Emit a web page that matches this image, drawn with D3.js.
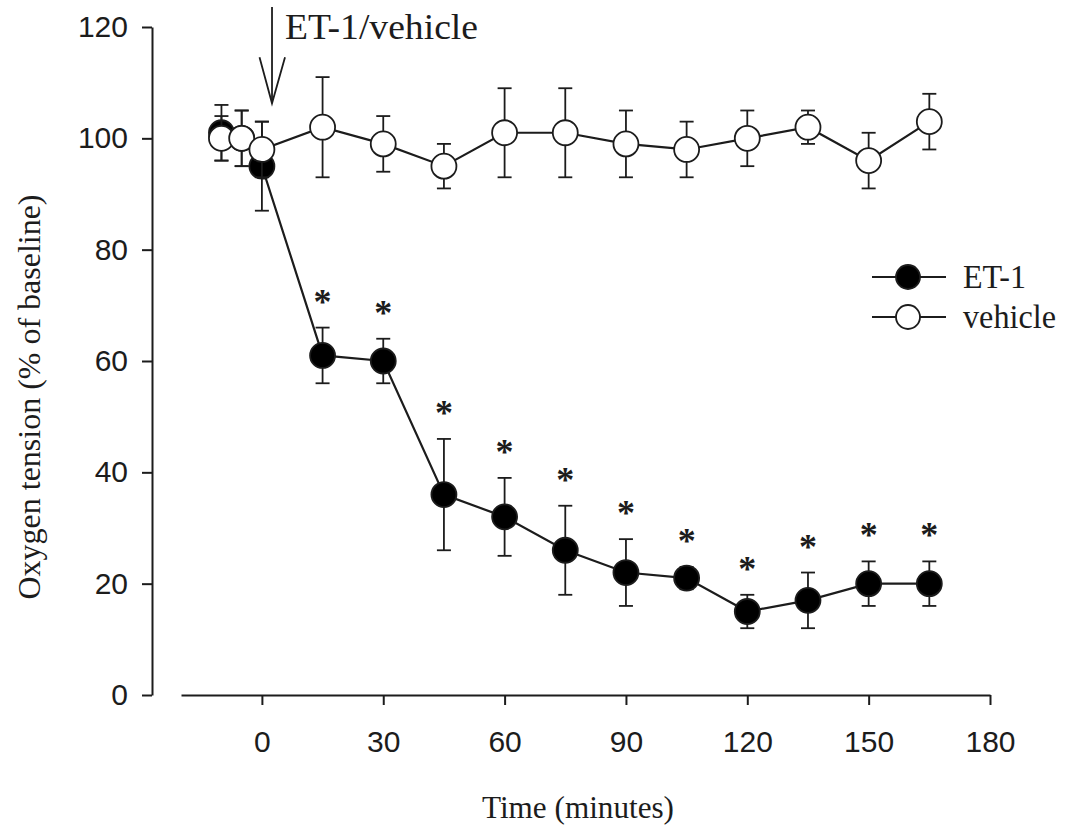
<!DOCTYPE html>
<html>
<head>
<meta charset="utf-8">
<script src="https://cdn.jsdelivr.net/npm/d3@7"></script>
<style>
  html, body { margin: 0; padding: 0; background: #fff; }
  svg { display: block; }
</style>
</head>
<body>
<svg id="chart" width="1067" height="830"></svg>
<script>
// Sampling times (minutes relative to ET-1 / vehicle injection)
const times = [-10, -5, 0, 15, 30, 45, 60, 75, 90, 105, 120, 135, 150, 165];

// ET-1 group: mean oxygen tension (% of baseline) and SEM
const et1Mean = [101, 100, 95, 61, 60, 36, 32, 26, 22, 21, 15, 17, 20, 20];
const et1Err  = [5, 5, 8, 5, 4, 10, 7, 8, 6, 2, 3, 5, 4, 4];

// Vehicle group: mean oxygen tension (% of baseline) and SEM
const vehMean = [100, 100, 98, 102, 99, 95, 101, 101, 99, 98, 100, 102, 96, 103];
const vehErr  = [4, 5, 5, 9, 5, 4, 8, 8, 6, 5, 5, 3, 5, 5];

// Time points where ET-1 differs significantly from vehicle
const et1Significant = [15, 30, 45, 60, 75, 90, 105, 120, 135, 150, 165];

const xTicks = [0, 30, 60, 90, 120, 150, 180];
const yTicks = [0, 20, 40, 60, 80, 100, 120];

// Injection marker
const injectionTime = 2.5;
const injectionLabel = "ET-1/vehicle";

const ink = "#1c1c1c";
const svg = d3.select("#chart");

const x = d3.scaleLinear().domain([-20, 180]).range([181, 990]);
const y = d3.scaleLinear().domain([0, 120]).range([695, 27]);

// Axes
const xAxis = svg.append("g")
  .attr("transform", `translate(0,${y(0)})`)
  .call(d3.axisBottom(x).tickValues(xTicks).tickSize(10).tickSizeOuter(0).tickPadding(26));
const yAxis = svg.append("g")
  .attr("transform", `translate(152,0)`)
  .call(d3.axisLeft(y).tickValues(yTicks).tickSize(10).tickSizeOuter(0).tickPadding(14));

[xAxis, yAxis].forEach(g => {
  g.select(".domain").attr("stroke", ink).attr("stroke-width", 2);
  g.selectAll(".tick line").attr("stroke", ink).attr("stroke-width", 2);
  g.selectAll(".tick text")
    .attr("fill", ink)
    .style("font-family", "'Liberation Sans', Arial, sans-serif")
    .style("font-size", "30px");
});

// Axis titles
svg.append("text")
  .attr("x", 578).attr("y", 818)
  .attr("text-anchor", "middle")
  .attr("textLength", 192).attr("lengthAdjust", "spacingAndGlyphs")
  .style("font-family", "'Liberation Serif', 'Times New Roman', serif")
  .style("font-size", "32px")
  .attr("fill", ink)
  .text("Time (minutes)");

svg.append("text")
  .attr("transform", "translate(40,397) rotate(-90)")
  .attr("text-anchor", "middle")
  .attr("textLength", 405).attr("lengthAdjust", "spacingAndGlyphs")
  .style("font-family", "'Liberation Serif', 'Times New Roman', serif")
  .style("font-size", "32px")
  .attr("fill", ink)
  .text("Oxygen tension (% of baseline)");

// Build point records for each group
const et1 = times.map((t, i) => ({ t, m: et1Mean[i], e: et1Err[i] }));
const veh = times.map((t, i) => ({ t, m: vehMean[i], e: vehErr[i] }));

const line = d3.line().x(d => x(d.t)).y(d => y(d.m));
const capHalf = 7;
const r = 12.5;

function drawGroup(data, filled) {
  const g = svg.append("g");
  // error bars
  const eb = g.selectAll(".eb").data(data).enter().append("g");
  eb.append("line")
    .attr("x1", d => x(d.t)).attr("x2", d => x(d.t))
    .attr("y1", d => y(d.m + d.e)).attr("y2", d => y(d.m - d.e))
    .attr("stroke", ink).attr("stroke-width", 1.8);
  eb.append("line")
    .attr("x1", d => x(d.t) - capHalf).attr("x2", d => x(d.t) + capHalf)
    .attr("y1", d => y(d.m + d.e)).attr("y2", d => y(d.m + d.e))
    .attr("stroke", ink).attr("stroke-width", 1.8);
  eb.append("line")
    .attr("x1", d => x(d.t) - capHalf).attr("x2", d => x(d.t) + capHalf)
    .attr("y1", d => y(d.m - d.e)).attr("y2", d => y(d.m - d.e))
    .attr("stroke", ink).attr("stroke-width", 1.8);
  // connecting line
  g.append("path").datum(data)
    .attr("d", line)
    .attr("fill", "none").attr("stroke", ink).attr("stroke-width", 2.2);
  // markers
  g.selectAll("circle").data(data).enter().append("circle")
    .attr("cx", d => x(d.t)).attr("cy", d => y(d.m)).attr("r", r)
    .attr("fill", filled ? "#000" : "#fff")
    .attr("stroke", ink).attr("stroke-width", 1.8);
}

drawGroup(et1, true);
drawGroup(veh, false);

// Significance asterisks above the ET-1 error bars
svg.append("g").selectAll("text")
  .data(et1.filter(d => et1Significant.includes(d.t)))
  .enter().append("text")
  .attr("x", d => x(d.t))
  .attr("y", d => y(d.m + d.e) - 30 + 16)
  .attr("text-anchor", "middle")
  .style("font-family", "'Liberation Serif', 'Times New Roman', serif")
  .style("font-size", "36px")
  .style("font-weight", "bold")
  .attr("fill", ink)
  .text("*");

// Injection arrow with label
const ax = x(injectionTime);
const tipY = y(106.3);
const arrow = svg.append("g").attr("stroke", ink).attr("stroke-width", 1.8).attr("fill", "none");
arrow.append("line").attr("x1", ax).attr("x2", ax).attr("y1", y(123.6)).attr("y2", tipY);
arrow.append("path").attr("d", `M${ax - 12.5},${tipY - 46} L${ax},${tipY} L${ax + 13},${tipY - 46}`);

svg.append("text")
  .attr("x", ax + 13).attr("y", 39)
  .attr("textLength", 193).attr("lengthAdjust", "spacingAndGlyphs")
  .style("font-family", "'Liberation Serif', 'Times New Roman', serif")
  .style("font-size", "36px")
  .attr("fill", ink)
  .text(injectionLabel);

// Legend
const legendItems = [
  { label: "ET-1", filled: true, yPos: 277, width: 63 },
  { label: "vehicle", filled: false, yPos: 317, width: 93 }
];
const lg = svg.append("g");
legendItems.forEach(it => {
  lg.append("line").attr("x1", 872).attr("x2", 946).attr("y1", it.yPos).attr("y2", it.yPos)
    .attr("stroke", ink).attr("stroke-width", 2.2);
  lg.append("circle").attr("cx", 908).attr("cy", it.yPos).attr("r", 12)
    .attr("fill", it.filled ? "#000" : "#fff").attr("stroke", ink).attr("stroke-width", 1.8);
  lg.append("text").attr("x", 963).attr("y", it.yPos + 11)
    .attr("textLength", it.width).attr("lengthAdjust", "spacingAndGlyphs")
    .style("font-family", "'Liberation Serif', 'Times New Roman', serif")
    .style("font-size", "33px")
    .attr("fill", ink)
    .text(it.label);
});
</script>
</body>
</html>
